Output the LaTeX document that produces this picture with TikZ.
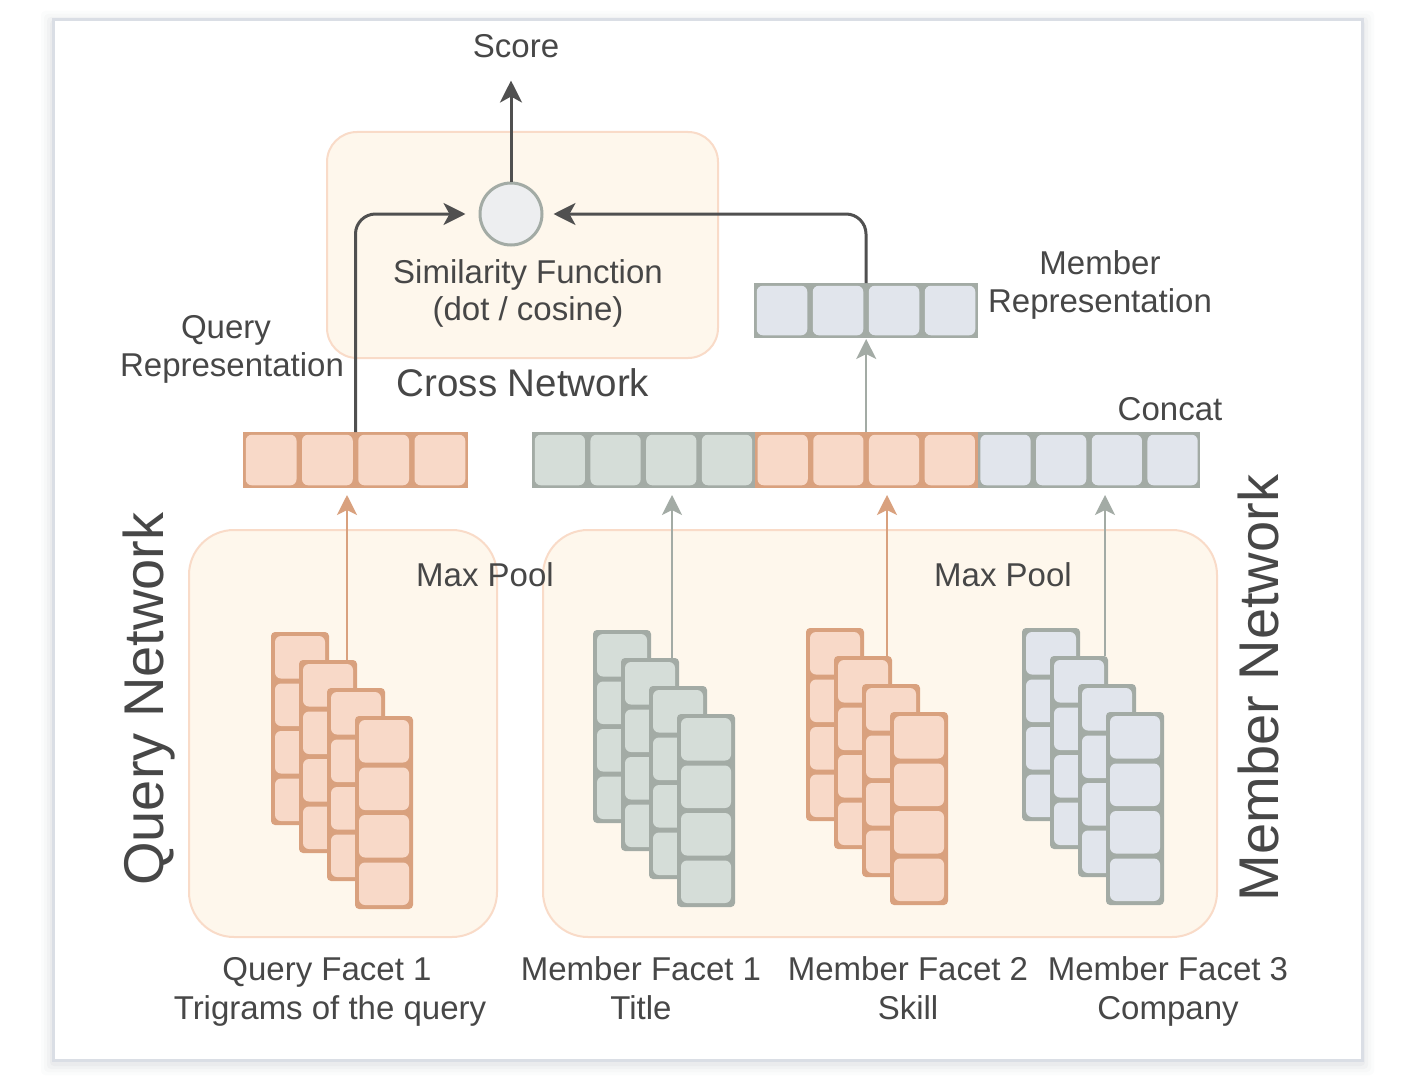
\documentclass[tikz,border=0pt]{standalone}
\usepackage{fontspec}
\setmainfont{Liberation Sans}
\usetikzlibrary{arrows.meta}
\definecolor{txt}{HTML}{474747}
\definecolor{peachfill}{HTML}{FEF7EC}
\definecolor{peachline}{HTML}{F9DBC8}
\definecolor{orfill}{HTML}{F8D9C8}
\definecolor{orline}{HTML}{D9A17E}
\definecolor{grfill}{HTML}{D5DDD8}
\definecolor{grline}{HTML}{A3ABA5}
\definecolor{blfill}{HTML}{E1E5EC}
\definecolor{circfill}{HTML}{EDEEF0}
\definecolor{arrowdark}{HTML}{505050}
\definecolor{framecol}{HTML}{DADEE5}
\definecolor{shadowcol}{HTML}{9AA0AA}
\newcommand{\facetstack}[4]{%
  \foreach \k in {0,...,3}{%
    \pgfmathsetmacro{\cx}{#1+28*\k}%
    \pgfmathsetmacro{\cy}{#2+28*\k}%
    \fill[#4, rounded corners=4pt] (\cx,\cy) rectangle ++(58,193);
    \foreach \i in {0,...,3}{%
      \fill[#3, rounded corners=6pt] (\cx+4,\cy+4+\i*47.5) rectangle ++(50,42.5);
    }
  }%
}
\begin{document}
\begin{tikzpicture}[x=1pt,y=-1pt,
  lbl/.style={font=\fontsize{33}{38}\selectfont, text=txt, inner sep=0pt, anchor=base},
  biglbl/.style={font=\fontsize{38.5}{44}\selectfont, text=txt, inner sep=0pt, anchor=base},
  netlbl/.style={font=\fontsize{56}{60}\selectfont, text=txt, inner sep=0pt, anchor=base, rotate=90},
  groupbox/.style={fill=peachfill, draw=peachline, line width=2pt},
  vcell/.style 2 args={rectangle, inner sep=0pt, outer sep=0pt, minimum width=56pt, minimum height=56pt, fill=#2,
    path picture={\fill[#1, rounded corners=6pt] ([shift={(2.75pt,-2.75pt)}]path picture bounding box.north west) rectangle ([shift={(-2.75pt,2.75pt)}]path picture bounding box.south east);}},
  darkarr/.style={draw=arrowdark, line width=3pt, -{Stealth[length=22pt,width=22pt,inset=6pt]}},
  thinarr/.style={line width=2.5pt, -{Stealth[length=20pt,width=20pt,inset=5pt]}},
]
\useasboundingbox (0,0) rectangle (1427,1089);
\fill[white] (0,0) rectangle (1427,1089);
% outer frame with soft shadow
\foreach \s/\o in {12/0.03,9/0.04,6/0.06,3/0.08}{
  \fill[shadowcol, opacity=\o, rounded corners=4pt] (53-\s,20-\s+3) rectangle (1362+\s,1060+\s+3);
}
\draw[framecol, line width=3pt, fill=white] (53,20) rectangle (1362,1060);

% group boxes
\draw[groupbox, rounded corners=30pt] (327,132) rectangle (718,358);
\draw[groupbox, rounded corners=45pt] (189,530) rectangle (497,937);
\draw[groupbox, rounded corners=45pt] (543,530) rectangle (1217,937);

% facet stacks
\facetstack{271}{632}{orfill}{orline}
\facetstack{593}{630}{grfill}{grline}
\facetstack{806}{628}{orfill}{orline}
\facetstack{1022}{628}{blfill}{grline}

% query representation vector
\foreach \i in {1,...,4}
  \node[vcell={orfill}{orline}, minimum width=56.25pt] (q\i) at ({243+28.125+(\i-1)*56.25}, 460) {};
% member representation vector
\foreach \i in {1,...,4}
  \node[vcell={blfill}{grline}, minimum height=55pt] (m\i) at ({754+28+(\i-1)*56}, 310.5) {};
% concat vector
\foreach \i/\f/\l in {1/grfill/grline,2/grfill/grline,3/grfill/grline,4/grfill/grline,
                      5/orfill/orline,6/orfill/orline,7/orfill/orline,8/orfill/orline,
                      9/blfill/grline,10/blfill/grline,11/blfill/grline,12/blfill/grline}
  \node[vcell={\f}{\l}, minimum width=55.7pt] (c\i) at ({532+27.85+(\i-1)*55.7}, 460) {};

% similarity function circle
\node[circle, minimum size=62pt, inner sep=0pt, draw=grline, line width=3pt, fill=circfill] (sim) at (511,214) {};

% labels
\node[lbl] (score) at (516,58) {Score};
\node[lbl] (simA) at (528,283) {Similarity Function};
\node[lbl] (simB) at (528,320) {(dot / cosine)};
\node[biglbl] (cross) at (523,396) {Cross Network};
\node[lbl] (qrA) at (226,338) {Query};
\node[lbl] (qrB) at (232,376) {Representation};
\node[lbl] (mrA) at (1100,274) {Member};
\node[lbl] (mrB) at (1100,312) {Representation};
\node[lbl] (concat) at (1170,420) {Concat};
\node[lbl] (mp1) at (485,586) {Max Pool};
\node[lbl] (mp2) at (1003,586) {Max Pool};
\node[lbl] (qf1) at (327,980) {Query Facet 1};
\node[lbl] (qf2) at (330,1019) {Trigrams of the query};
\node[lbl] (mf1a) at (641,980) {Member Facet 1};
\node[lbl] (mf1b) at (641,1019) {Title};
\node[lbl] (mf2a) at (908,980) {Member Facet 2};
\node[lbl] (mf2b) at (908,1019) {Skill};
\node[lbl] (mf3a) at (1168,980) {Member Facet 3};
\node[lbl] (mf3b) at (1168,1019) {Company};
\node[netlbl] (qnet) at (163,699) {Query Network};
\node[netlbl] (mnet) at (1278,688) {Member Network};

% connectors
\draw[darkarr, shorten >=22pt] (sim.north) -- (sim.north |- score.south);
\draw[darkarr, rounded corners=20pt, shorten >=13pt] (q3.north west) |- (sim.west);
\draw[darkarr, rounded corners=20pt, shorten >=10pt] (m3.north west) |- (sim.east);
\draw[thinarr, draw=grline, shorten >=1pt] (c6.north east) -- (c6.north east |- m3.south);

\coordinate (qp) at (347,660);
\coordinate (f1p) at (672,658);
\coordinate (f2p) at (887,656);
\coordinate (f3p) at (1105,656);
\draw[thinarr, draw=orline, shorten >=7pt] (qp) -- (qp |- q2.south);
\draw[thinarr, draw=grline, shorten >=7pt] (f1p) -- (f1p |- c3.south);
\draw[thinarr, draw=orline, shorten >=7pt] (f2p) -- (f2p |- c7.south);
\draw[thinarr, draw=grline, shorten >=7pt] (f3p) -- (f3p |- c11.south);
\end{tikzpicture}
\end{document}
